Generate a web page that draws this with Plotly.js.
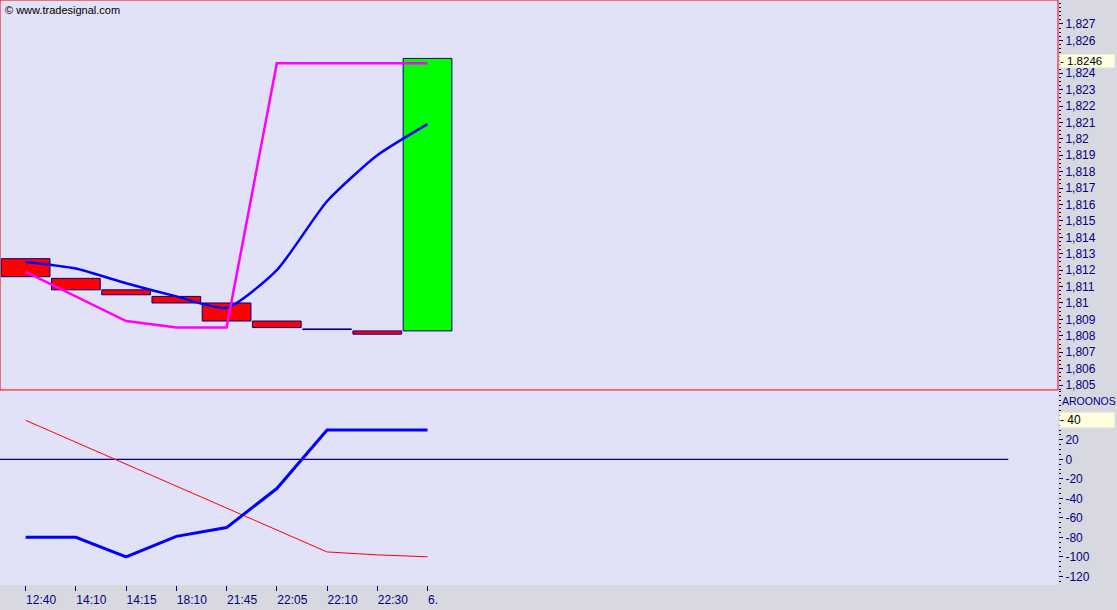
<!DOCTYPE html>
<html>
<head>
<meta charset="utf-8">
<script src="https://cdn.plot.ly/plotly-3.0.1.min.js"></script>
<style>html,body{margin:0;padding:0;background:#d8d8e0;}#chart{width:1117px;height:610px;}</style>
</head>
<body>
<div id="chart"></div>
<script>
// ---- data ----
var timeLabels = ['12:40','14:10','14:15','18:10','21:45','22:05','22:10','22:30','6.'];
var barOpen  = [1.8127, 1.8115, 1.8108, 1.8104, 1.8100, 1.8089, 1.80842, 1.8083, 1.8083];
var barClose = [1.8116, 1.8108, 1.8105, 1.8100, 1.8089, 1.8085, 1.80838, 1.8081, 1.8249];
var avgLine  = [1.8125, 1.8121, 1.8112, 1.8104, 1.8097, 1.8120, 1.8162, 1.8190, 1.8209];
var stopLine = [1.8119, 1.8104, 1.8089, 1.8085, 1.8085, 1.8246, 1.8246, 1.8246, 1.8246];
var aroonOsc = [-80, -80, -100, -79, -70, -30, 30, 30, 30];
var aroonRef = [40, 17.5, -5, -27.5, -50, -72.5, -95, -98, -100];
var priceTicks = [1.827,1.826,1.825,1.824,1.823,1.822,1.821,1.820,1.819,1.818,1.817,1.816,1.815,1.814,1.813,1.812,1.811,1.810,1.809,1.808,1.807,1.806,1.805];
var priceTickText = ['1,827','1,826','','1,824','1,823','1,822','1,821','1,82','1,819','1,818','1,817','1,816','1,815','1,814','1,813','1,812','1,811','1,81','1,809','1,808','1,807','1,806','1,805'];
var oscTicks = [40,20,0,-20,-40,-60,-80,-100,-120];
var oscTickText = ['','20','0','-20','-40','-60','-80','-100','-120'];
var lastPrice = '1.8246';
var lastOsc = '40';
var oscName = 'AROONOS';

// ---- build ----
var idx = timeLabels.map(function(_, i){ return i; });
var bodyBase = [], bodyH = [], bodyCol = [];
for (var i = 0; i < idx.length; i++) {
  bodyBase.push(barOpen[i]);
  bodyH.push(barClose[i] - barOpen[i]);
  bodyCol.push(barClose[i] >= barOpen[i] ? '#00ff00' : '#ff0000');
}
var navy = '#000080';
var tickFont = {family: 'Liberation Sans, Arial, sans-serif', size: 12, color: navy};

var traces = [
  {type: 'bar', x: idx, y: bodyH, base: bodyBase, width: 0.97,
   marker: {color: bodyCol, line: {color: navy, width: 1}},
   xaxis: 'x', yaxis: 'y', hoverinfo: 'skip'},
  {type: 'scatter', mode: 'lines', x: idx, y: avgLine, line: {color: '#0000ff', width: 2.5, shape: 'spline', smoothing: 0.6},
   xaxis: 'x', yaxis: 'y'},
  {type: 'scatter', mode: 'lines', x: idx, y: stopLine, line: {color: '#ff00ff', width: 2.5},
   xaxis: 'x', yaxis: 'y'},
  {type: 'scatter', mode: 'lines', x: idx, y: aroonRef, line: {color: '#ff0000', width: 1},
   xaxis: 'x', yaxis: 'y2'},
  {type: 'scatter', mode: 'lines', x: idx, y: aroonOsc, line: {color: '#0000ff', width: 3},
   xaxis: 'x', yaxis: 'y2'}
];

var layout = {
  width: 1117, height: 610,
  margin: {l: 0, r: 59, t: 0, b: 25, pad: 0},
  paper_bgcolor: '#d8d8e0',
  plot_bgcolor: '#e1e1f8',
  showlegend: false,
  bargap: 0,
  xaxis: {
    range: [-0.51, 20.55], anchor: 'y2',
    tickmode: 'array', tickvals: idx, ticktext: timeLabels,
    ticks: 'outside', ticklen: 5, tickcolor: navy, tickwidth: 1,
    ticklabelposition: 'outside right', ticklabelstandoff: 4,
    tickfont: tickFont, showgrid: false, zeroline: false, showline: false, fixedrange: true
  },
  yaxis: {
    domain: [0.3334, 1], range: [1.80470, 1.82846], side: 'right', anchor: 'x',
    tickmode: 'array', tickvals: priceTicks, ticktext: priceTickText,
    ticks: 'outside', ticklen: 4, tickcolor: navy, tickwidth: 1,
    minor: {tickmode: 'linear', tick0: 1.805, dtick: 0.00025, ticks: 'outside', ticklen: 2, tickcolor: navy, showgrid: false},
    tickfont: tickFont, showgrid: false, zeroline: false, showline: false
  },
  yaxis2: {
    domain: [0, 0.3334], range: [-128.9, 71.1], side: 'right', anchor: 'x',
    tickmode: 'array', tickvals: oscTicks, ticktext: oscTickText,
    ticks: 'outside', ticklen: 4, tickcolor: navy, tickwidth: 1,
    minor: {tickmode: 'linear', tick0: 0, dtick: 5, ticks: 'outside', ticklen: 2, tickcolor: navy, showgrid: false},
    tickfont: tickFont, showgrid: false, zeroline: false, showline: false
  },
  shapes: [
    {type: 'rect', xref: 'x domain', yref: 'y domain', x0: 0, x1: 1, y0: 0, y1: 1,
     line: {color: '#ff0000', width: 1}, fillcolor: 'rgba(0,0,0,0)'},
    {type: 'line', xref: 'x domain', yref: 'y2', x0: 0, x1: 0.953, y0: 0, y1: 0,
     line: {color: navy, width: 1.2}, layer: 'below'}
  ],
  annotations: [
    {xref: 'paper', yref: 'paper', x: 0.003, y: 0.997, xanchor: 'left', yanchor: 'top',
     text: '© www.tradesignal.com', showarrow: false,
     font: {family: 'Liberation Sans, Arial, sans-serif', size: 11, color: '#000000'}},
    {xref: 'paper', yref: 'y', x: 1, y: 1.8246, xanchor: 'left', yanchor: 'middle', xshift: 1, yshift: 2,
     text: '- ' + lastPrice, showarrow: false, align: 'left', width: 54, height: 12,
     bgcolor: '#ffffe0', borderpad: 0,
     font: {family: 'Liberation Sans, Arial, sans-serif', size: 11.5, color: '#000000'}},
    {xref: 'paper', yref: 'y2', x: 1, y: 60, xanchor: 'left', yanchor: 'middle', xshift: 2,
     text: oscName, showarrow: false,
     font: {family: 'Liberation Sans, Arial, sans-serif', size: 10.5, color: navy}},
    {xref: 'paper', yref: 'y2', x: 1, y: 40, xanchor: 'left', yanchor: 'middle', xshift: 1,
     text: '- ' + lastOsc, showarrow: false, align: 'left', width: 54, height: 14,
     bgcolor: '#ffffe0', borderpad: 0,
     font: {family: 'Liberation Sans, Arial, sans-serif', size: 12, color: '#000000'}}
  ]
};

Plotly.newPlot('chart', traces, layout, {displayModeBar: false, staticPlot: true});
</script>
</body>
</html>
